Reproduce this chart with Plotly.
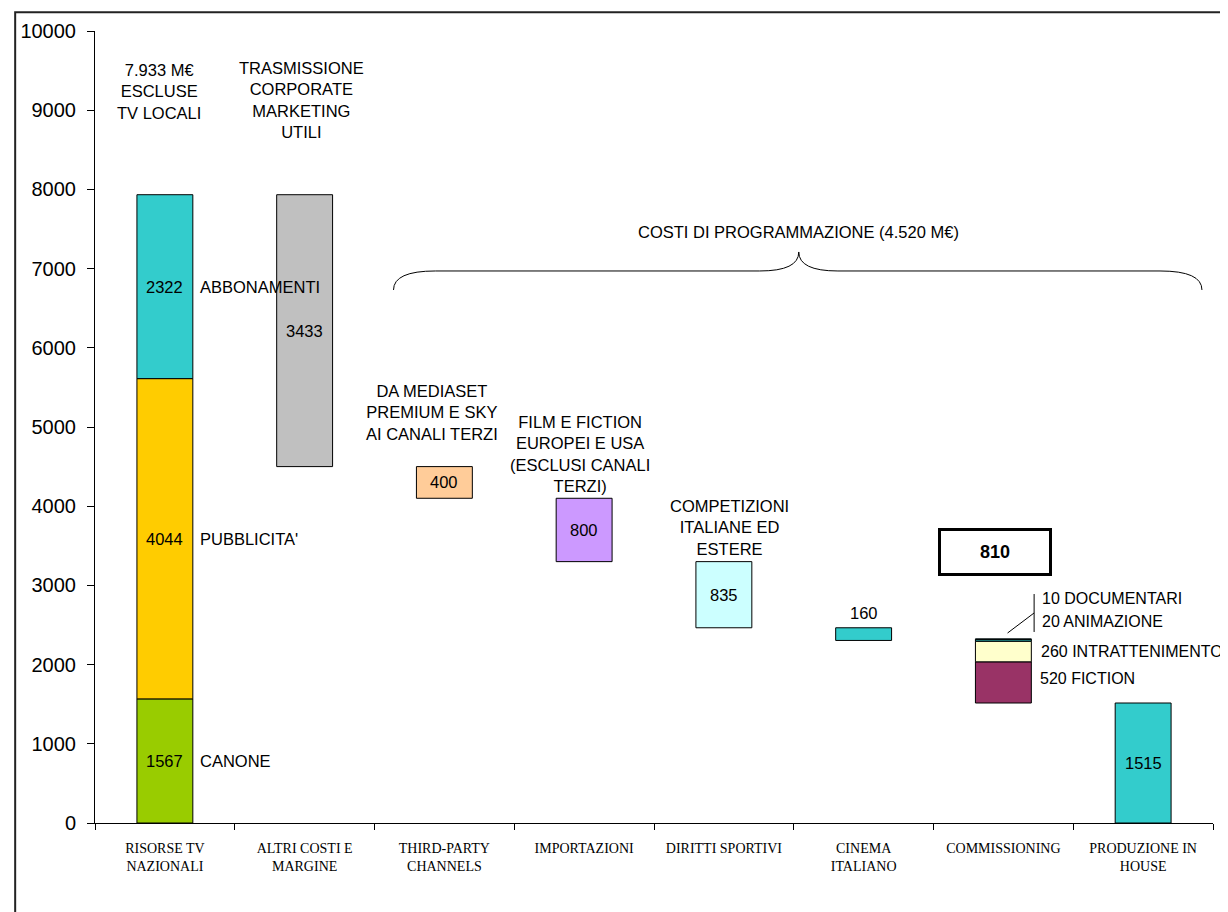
import plotly.graph_objects as go

# ---------------- data ----------------
categories = ["RISORSE TV<br>NAZIONALI", "ALTRI COSTI E<br>MARGINE", "THIRD-PARTY<br>CHANNELS",
              "IMPORTAZIONI", "DIRITTI SPORTIVI", "CINEMA<br>ITALIANO", "COMMISSIONING",
              "PRODUZIONE IN<br>HOUSE"]

revenue_names = ["CANONE", "PUBBLICITA'", "ABBONAMENTI"]
revenue_values = [1567, 4044, 2322]
revenue_colors = ["#99CC00", "#FFCC00", "#33CCCC"]

other_costs_value = 3433

prog_values = [400, 800, 835, 160, 1515]          # third-party, importazioni, diritti, cinema, produzione
prog_bases = [4100, 3300, 2465, 2305, 0]
prog_index = [2, 3, 4, 5, 7]
prog_colors = ["#FFCC99", "#CC99FF", "#CCFFFF", "#33CCCC", "#33CCCC"]

comm_names = ["FICTION", "INTRATTENIMENTO", "ANIMAZIONE", "DOCUMENTARI"]
comm_values = [520, 260, 20, 10]
comm_base = 1515
comm_colors = ["#993366", "#FFFFCC", "#33CCCC", "#006666"]
comm_total = 810

total_label = "7.933 M€<br>ESCLUSE<br>TV LOCALI"
other_label = "TRASMISSIONE<br>CORPORATE<br>MARKETING<br>UTILI"
prog_notes = ["DA MEDIASET<br>PREMIUM E SKY<br>AI CANALI TERZI",
              "FILM E FICTION<br>EUROPEI E USA<br>(ESCLUSI CANALI<br>TERZI)",
              "COMPETIZIONI<br>ITALIANE ED<br>ESTERE"]
brace_label = "COSTI DI PROGRAMMAZIONE (4.520 M€)"

# ---------------- figure ----------------
SANS = "Liberation Sans, Arial, sans-serif"
SERIF = "Liberation Serif, Times New Roman, serif"
W = 0.4
FS = 16.5
line = dict(color="black", width=1)

fig = go.Figure()
annotations = []

# Revenue stacked bar
base = 0
for name, v, c in zip(revenue_names, revenue_values, revenue_colors):
    fig.add_trace(go.Bar(x=[0], y=[v], base=[base], width=W, marker=dict(color=c, line=line),
                         hoverinfo="skip"))
    annotations.append(dict(x=0, y=base + v / 2, text=str(v), showarrow=False,
                            font=dict(family=SANS, size=FS, color="black")))
    annotations.append(dict(x=0.235, y=base + v / 2, text=name, showarrow=False, xanchor="left",
                            font=dict(family=SANS, size=FS, color="black")))
    base += v
revenue_total = base

# Other costs bar
other_base = revenue_total - other_costs_value
fig.add_trace(go.Bar(x=[1], y=[other_costs_value], base=[other_base], width=W,
                     marker=dict(color="#C0C0C0", line=line), hoverinfo="skip"))
annotations.append(dict(x=1, y=other_base + other_costs_value / 2, text=str(other_costs_value),
                        showarrow=False, font=dict(family=SANS, size=FS, color="black")))

# Programming cost bars
for i, v, b, c in zip(prog_index, prog_values, prog_bases, prog_colors):
    fig.add_trace(go.Bar(x=[i], y=[v], base=[b], width=W, marker=dict(color=c, line=line),
                         hoverinfo="skip"))
    if v >= 300:
        annotations.append(dict(x=i, y=b + v / 2, text=str(v), showarrow=False,
                                font=dict(family=SANS, size=FS, color="black")))
    else:
        annotations.append(dict(x=i, y=b + v, text=str(v), showarrow=False, yanchor="bottom",
                                yshift=4, font=dict(family=SANS, size=FS, color="black")))

# Commissioning stacked bar
b = comm_base
for name, v, c in zip(comm_names, comm_values, comm_colors):
    fig.add_trace(go.Bar(x=[6], y=[v], base=[b], width=W, marker=dict(color=c, line=line),
                         hoverinfo="skip"))
    b += v
comm_label_y = [1830, 2160, 2540, 2840]
comm_label_x = [6.245, 6.255, 6.265, 6.265]
for name, v, lx, ly in zip(comm_names, comm_values, comm_label_x, comm_label_y):
    annotations.append(dict(x=lx, y=ly, text=f"{v} {name}", showarrow=False, xanchor="left",
                            font=dict(family=SANS, size=16, color="black")))
annotations.append(dict(x=5.94, y=3428, text=f"<b>{comm_total}</b>", showarrow=False,
                        width=108, height=42, bordercolor="black", borderwidth=3, borderpad=0,
                        bgcolor="white", font=dict(family=SANS, size=18, color="black")))

# Notes above bars
annotations.append(dict(x=-0.04, y=9242, text=total_label, showarrow=False,
                        font=dict(family=SANS, size=FS, color="black")))
annotations.append(dict(x=0.98, y=9129, text=other_label, showarrow=False,
                        font=dict(family=SANS, size=FS, color="black")))
for (nx, ny), t in zip([(1.91, 5177), (2.97, 4659), (4.04, 3737)], prog_notes):
    annotations.append(dict(x=nx, y=ny, text=t, showarrow=False,
                            font=dict(family=SANS, size=FS, color="black")))
annotations.append(dict(x=4.536, y=7462, text=brace_label, showarrow=False,
                        font=dict(family=SANS, size=FS, color="black")))

shapes = []
# brace
xl, xr, xm = 1.636, 7.421, 4.536
yb, yh, yp = 6730, 6970, 7210
brace = (f"M {xl},{yb} Q {xl},{yh} {xl+0.3},{yh} L {xm-0.28},{yh} Q {xm},{yh} {xm},{yp} "
         f"Q {xm},{yh} {xm+0.28},{yh} L {xr-0.3},{yh} Q {xr},{yh} {xr},{yb}")
shapes.append(dict(type="path", path=brace, xref="x", yref="y", line=dict(color="black", width=1)))
# leader lines for small commissioning segments
shapes.append(dict(type="line", xref="x", yref="y", x0=6.22, x1=6.22, y0=2412, y1=2891,
                   line=dict(color="black", width=1)))
shapes.append(dict(type="line", xref="x", yref="y", x0=6.03, x1=6.22, y0=2399, y1=2652,
                   line=dict(color="black", width=1)))
# outer frame
shapes.append(dict(type="rect", xref="paper", yref="paper", x0=-0.0714, x1=1.3, y0=-0.3, y1=1.0237,
                   line=dict(color="#222222", width=2), layer="below"))

fig.update_layout(
    width=1220, height=904,
    margin=dict(l=85, r=15, t=23, b=89),
    paper_bgcolor="white", plot_bgcolor="white",
    barmode="overlay", showlegend=False,
    annotations=annotations, shapes=shapes,
    font=dict(family=SANS, color="black"),
    xaxis=dict(range=[-0.5, 7.5], tickmode="array", tickvals=list(range(len(categories))),
               ticktext=categories, ticks="", showgrid=False, zeroline=False,
               showline=True, linecolor="black", linewidth=1,
               tickfont=dict(family=SERIF, size=14, color="black"), ticklabelstandoff=12,
               minor=dict(tickmode="array", tickvals=[i - 0.5 for i in range(len(categories) + 1)],
                          ticks="outside", ticklen=6, tickcolor="black", showgrid=False)),
    yaxis=dict(range=[0, 10000], dtick=1000, tickformat="d", ticks="outside", ticklen=7,
               tickcolor="black", showgrid=False, zeroline=False, showline=True,
               linecolor="black", linewidth=1,
               tickfont=dict(family=SANS, size=20, color="black"), ticklabelstandoff=7),
)

fig.write_html("out.html")
